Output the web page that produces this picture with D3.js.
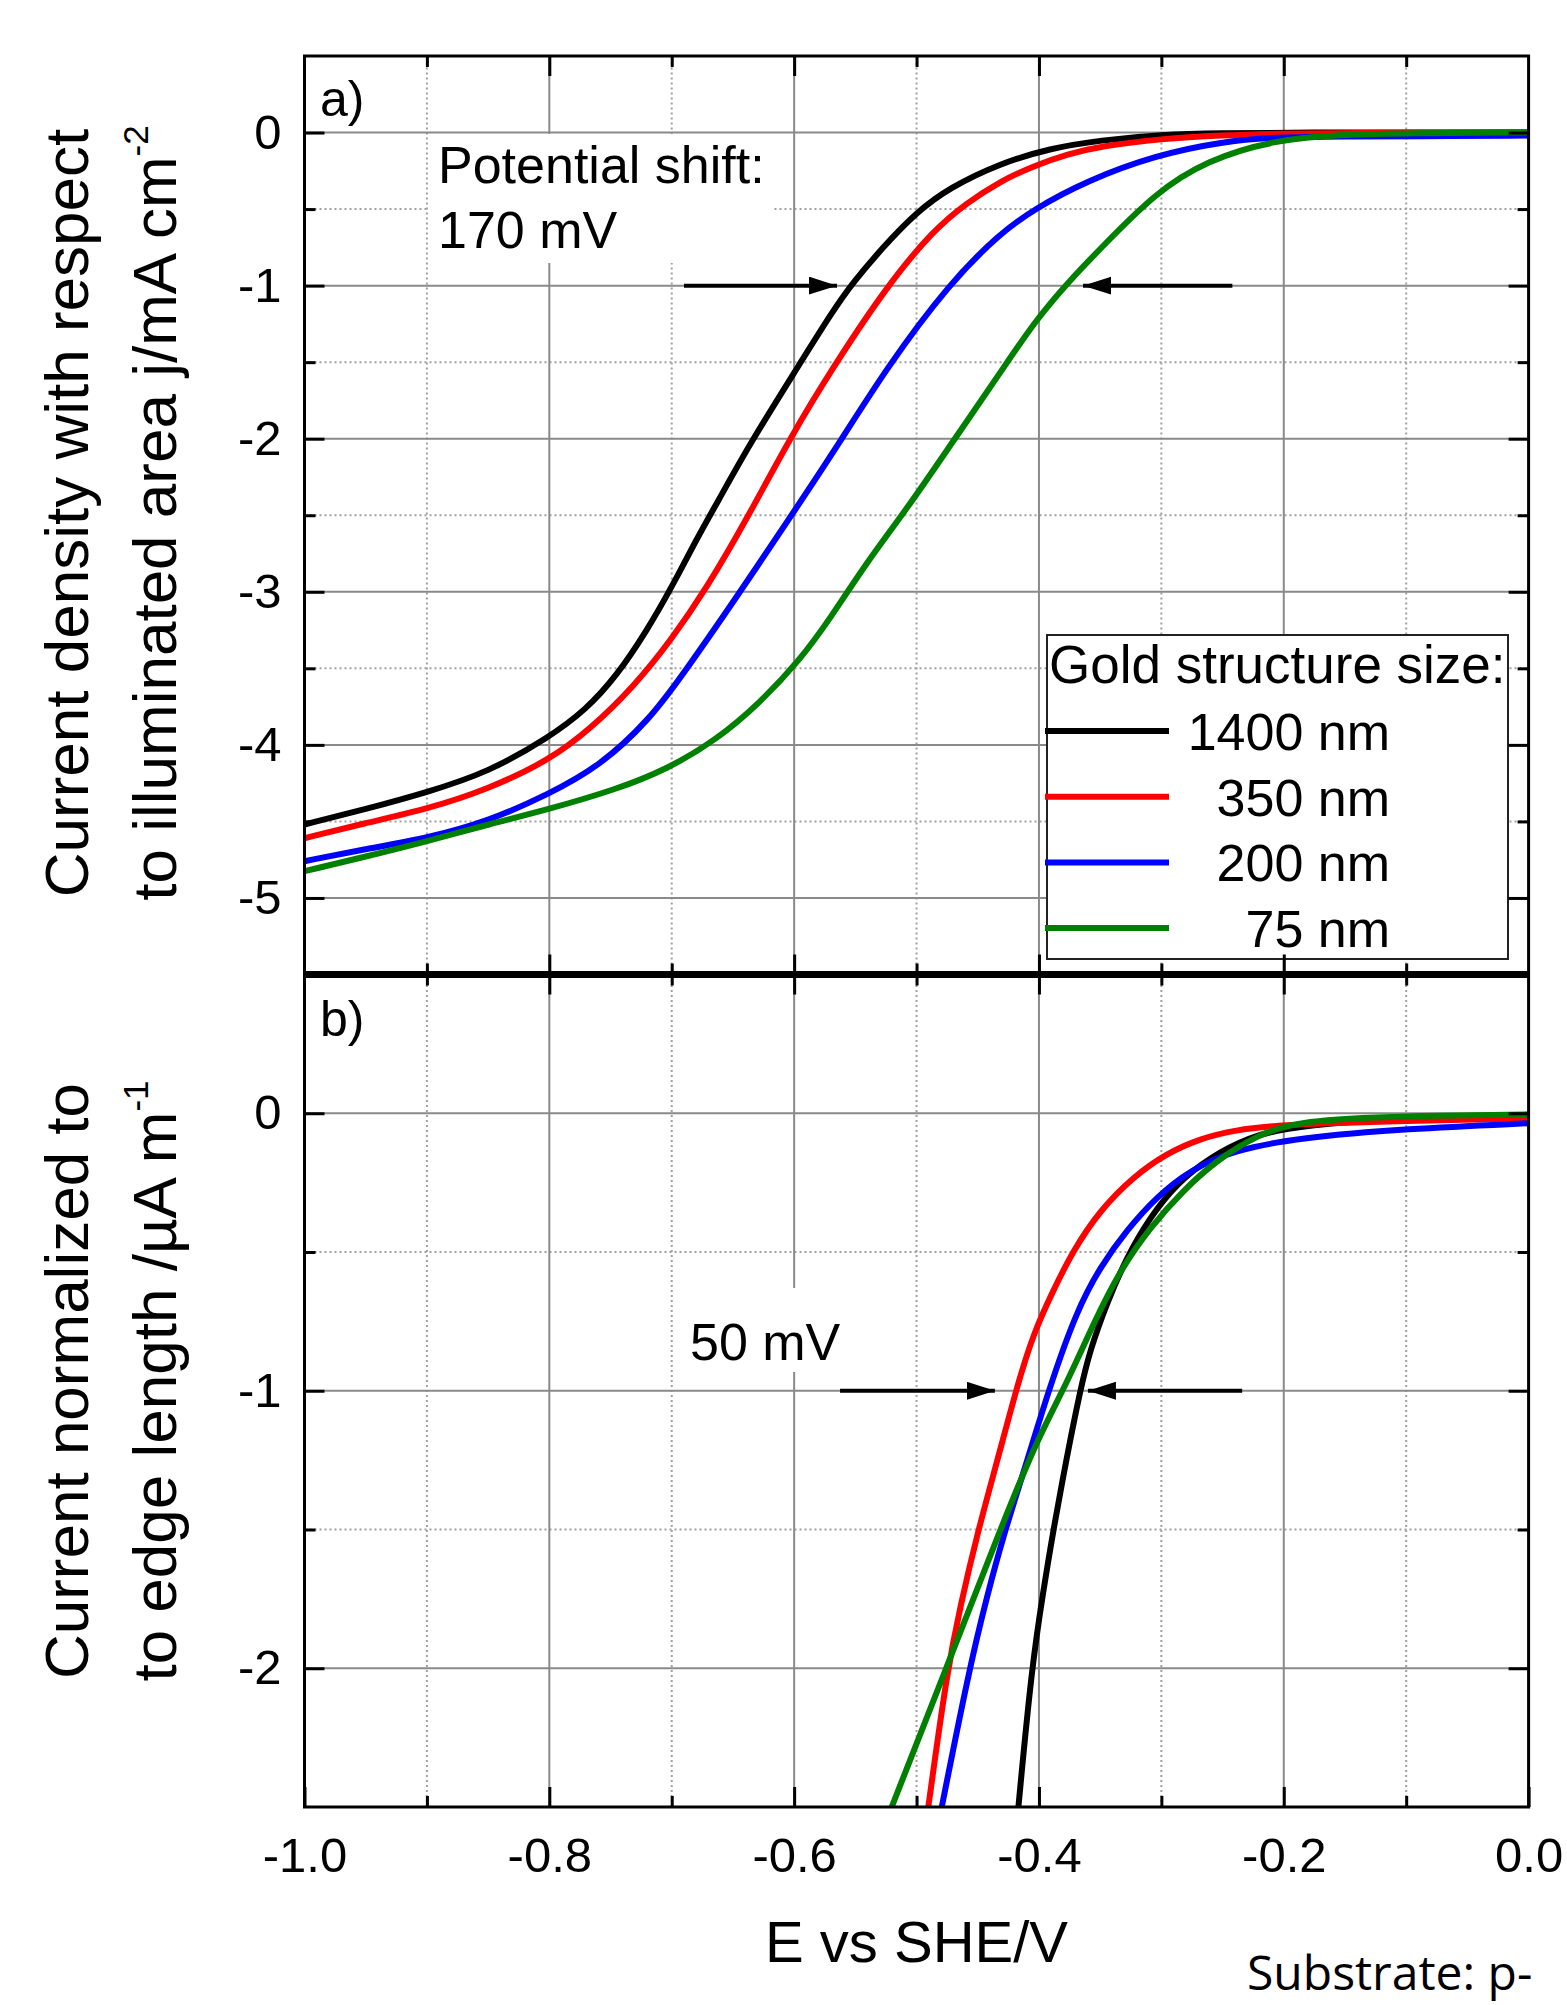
<!DOCTYPE html>
<html>
<head>
<meta charset="utf-8">
<script src="https://cdnjs.cloudflare.com/ajax/libs/d3/7.8.5/d3.min.js"></script>
<style>
  body { margin: 0; background: #fff; }
  svg { display: block; }
</style>
</head>
<body>
<svg id="chart"></svg>
<script>
// legend entries
var sizes = ["1400 nm", "350 nm", "200 nm", "75 nm"];
var colors = ["#000000", "#ff0000", "#0000ff", "#008000"];

// panel a) : [E vs SHE / V, j / mA cm-2]
var a1400 = [[-1.0,-4.52],[-0.95,-4.42],[-0.90,-4.31],[-0.85,-4.18],[-0.80,-3.95],[-0.77,-3.77],
  [-0.745,-3.55],[-0.72,-3.25],[-0.70,-2.97],[-0.68,-2.66],[-0.663,-2.42],[-0.636,-2.03],[-0.60,-1.57],
  [-0.568,-1.16],[-0.552,-0.98],[-0.527,-0.745],[-0.50,-0.52],[-0.473,-0.36],[-0.432,-0.202],
  [-0.391,-0.103],[-0.35,-0.05],[-0.30,-0.013],[-0.25,-0.003],[-0.20,0],[0,0]];
var a350 = [[-1.0,-4.61],[-0.95,-4.51],[-0.90,-4.42],[-0.85,-4.29],[-0.80,-4.10],[-0.767,-3.90],
  [-0.731,-3.62],[-0.70,-3.31],[-0.671,-2.97],[-0.639,-2.53],[-0.603,-1.99],[-0.568,-1.53],[-0.524,-1.00],
  [-0.486,-0.636],[-0.459,-0.46],[-0.432,-0.32],[-0.405,-0.22],[-0.376,-0.14],[-0.35,-0.09],
  [-0.30,-0.04],[-0.25,-0.018],[-0.207,-0.008],[-0.15,-0.002],[0,0]];
var a200 = [[-1.0,-4.76],[-0.95,-4.68],[-0.90,-4.61],[-0.85,-4.50],[-0.80,-4.32],[-0.759,-4.14],
  [-0.718,-3.835],[-0.69,-3.53],[-0.65,-3.07],[-0.603,-2.51],[-0.568,-2.09],[-0.524,-1.53],[-0.473,-0.984],
  [-0.432,-0.66],[-0.404,-0.50],[-0.361,-0.315],[-0.305,-0.148],[-0.249,-0.057],[-0.207,-0.031],
  [-0.15,-0.026],[-0.094,-0.024],[0,-0.02]];
var a75 = [[-1.0,-4.825],[-0.95,-4.73],[-0.90,-4.63],[-0.85,-4.52],[-0.80,-4.42],[-0.745,-4.29],
  [-0.704,-4.16],[-0.663,-3.965],[-0.628,-3.726],[-0.595,-3.443],[-0.571,-3.18],[-0.541,-2.81],
  [-0.508,-2.46],[-0.473,-2.05],[-0.43,-1.55],[-0.404,-1.24],[-0.376,-0.975],[-0.347,-0.735],
  [-0.305,-0.395],[-0.263,-0.181],[-0.207,-0.046],[-0.15,-0.012],[-0.10,-0.003],[0,0]];

// panel b) : [E vs SHE / V, I / uA m-1]
var b1400 = [[-0.4168,-2.5],[-0.4059,-1.995],[-0.3964,-1.72],[-0.3882,-1.50],[-0.3773,-1.24],
  [-0.3664,-1.0],[-0.3583,-0.854],[-0.3447,-0.686],[-0.3283,-0.518],[-0.309,-0.373],[-0.2875,-0.253],
  [-0.26,-0.157],[-0.2276,-0.085],[-0.20,-0.055],[-0.15,-0.03],[-0.10,-0.018],[0,-0.01]];
var b350 = [[-0.4904,-2.5],[-0.4753,-2.018],[-0.4645,-1.78],[-0.4495,-1.50],[-0.4345,-1.26],
  [-0.418,-0.985],[-0.4046,-0.794],[-0.3883,-0.638],[-0.372,-0.494],[-0.35,-0.349],[-0.323,-0.229],
  [-0.296,-0.145],[-0.268,-0.091],[-0.241,-0.061],[-0.20,-0.04],[-0.10,-0.027],[0,-0.018]];
var b200 = [[-0.4794,-2.5],[-0.4577,-2.018],[-0.4426,-1.742],[-0.4277,-1.502],[-0.4128,-1.298],
  [-0.3909,-0.98],[-0.369,-0.71],[-0.35,-0.554],[-0.3283,-0.421],[-0.3038,-0.301],[-0.2766,-0.205],
  [-0.2412,-0.133],[-0.1868,-0.088],[-0.10,-0.056],[0,-0.036]];
var b75 = [[-0.5203,-2.5],[-0.4753,-1.995],[-0.4318,-1.502],
  [-0.4018,-1.178],[-0.3773,-0.974],[-0.3556,-0.758],[-0.3338,-0.566],[-0.309,-0.41],[-0.282,-0.277],
  [-0.2548,-0.169],[-0.222,-0.079],[-0.1868,-0.025],[-0.10,-0.01],[0,-0.004]];

// ticks
var xMajor = [-1.0, -0.8, -0.6, -0.4, -0.2, 0.0];
var xMinor = [-0.9, -0.7, -0.5, -0.3, -0.1];
var yMajorA = [0, -1, -2, -3, -4, -5];
var yMinorA = [-0.5, -1.5, -2.5, -3.5, -4.5];
var yMajorB = [0, -1, -2];
var yMinorB = [-0.5, -1.5];

// potential shift arrows at j = -1 : [tail E, head E]
var arrowsA = [[-0.69, -0.565], [-0.242, -0.364]];
var arrowsB = [[-0.5625, -0.436], [-0.234, -0.36]];

var W = 1567, H = 2005;
var font = "'Liberation Sans', Arial, sans-serif";

var svg = d3.select('#chart')
    .attr('width', W)
    .attr('height', H)
    .attr('font-family', font);

var x = d3.scaleLinear().domain([-1, 0]).range([304.5, 1528.6]);
var yA = d3.scaleLinear().domain([-5.5, 0.5]).range([974.5, 56]);
var yB = d3.scaleLinear().domain([-2.5, 0.5]).range([1807, 974.5]);

var defs = svg.append('defs');
defs.append('marker')
    .attr('id', 'head')
    .attr('markerUnits', 'userSpaceOnUse')
    .attr('markerWidth', 30).attr('markerHeight', 20)
    .attr('refX', 28).attr('refY', 9)
    .attr('orient', 'auto')
  .append('path')
    .attr('d', 'M0,0 L28,9 L0,18 Z')
    .attr('fill', '#000');

function panel(id, y, yMaj, yMin) {
  var r = y.range();
  defs.append('clipPath').attr('id', 'clip' + id)
    .append('rect')
      .attr('x', x.range()[0]).attr('y', r[1])
      .attr('width', x.range()[1] - x.range()[0]).attr('height', r[0] - r[1]);

  var g = svg.append('g').attr('clip-path', 'url(#clip' + id + ')');

  // grid
  g.selectAll('.vmin').data(xMinor).enter().append('line')
      .attr('x1', function(d) { return x(d); }).attr('x2', function(d) { return x(d); })
      .attr('y1', r[0]).attr('y2', r[1])
      .attr('stroke', '#a0a0a0').attr('stroke-width', 2).attr('stroke-dasharray', '2,3');
  g.selectAll('.hmin').data(yMin).enter().append('line')
      .attr('x1', x.range()[0]).attr('x2', x.range()[1])
      .attr('y1', function(d) { return y(d); }).attr('y2', function(d) { return y(d); })
      .attr('stroke', '#a0a0a0').attr('stroke-width', 2).attr('stroke-dasharray', '2,3');
  g.selectAll('.vmaj').data(xMajor).enter().append('line')
      .attr('x1', function(d) { return x(d); }).attr('x2', function(d) { return x(d); })
      .attr('y1', r[0]).attr('y2', r[1])
      .attr('stroke', '#8a8a8a').attr('stroke-width', 2);
  g.selectAll('.hmaj').data(yMaj).enter().append('line')
      .attr('x1', x.range()[0]).attr('x2', x.range()[1])
      .attr('y1', function(d) { return y(d); }).attr('y2', function(d) { return y(d); })
      .attr('stroke', '#8a8a8a').attr('stroke-width', 2);
  return g;
}

function curves(g, y, series) {
  var line = d3.line()
      .x(function(d) { return x(d[0]); })
      .y(function(d) { return y(d[1]); })
      .curve(d3.curveBasis);
  g.selectAll('path.curve').data(series).enter().append('path')
      .attr('class', 'curve')
      .attr('d', line)
      .attr('fill', 'none')
      .attr('stroke', function(d, i) { return colors[i]; })
      .attr('stroke-width', 6)
      .attr('stroke-linejoin', 'round');
}

function arrows(data, y) {
  svg.selectAll(null).data(data).enter().append('line')
      .attr('x1', function(d) { return x(d[0]); })
      .attr('x2', function(d) { return x(d[1]); })
      .attr('y1', y(-1)).attr('y2', y(-1))
      .attr('stroke', '#000').attr('stroke-width', 4)
      .attr('marker-end', 'url(#head)');
}

// panel a
var gA = panel('A', yA, yMajorA, yMinorA);
gA.append('rect').attr('x', 428).attr('y', 134).attr('width', 345).attr('height', 129).attr('fill', '#fff');
curves(gA, yA, [a1400, a350, a200, a75]);

// panel b
var gB = panel('B', yB, yMajorB, yMinorB);
gB.append('rect').attr('x', 680).attr('y', 1288).attr('width', 165).attr('height', 84).attr('fill', '#fff');
curves(gB, yB, [b1400, b350, b200, b75]);

arrows(arrowsA, yA);
arrows(arrowsB, yB);

// legend
var leg = svg.append('g');
leg.append('rect')
    .attr('x', 1047).attr('y', 635).attr('width', 461).attr('height', 324)
    .attr('fill', '#fff').attr('stroke', '#222').attr('stroke-width', 2);
leg.append('text')
    .attr('x', 1049).attr('y', 683)
    .attr('font-size', 53)
    .text('Gold structure size:');
sizes.forEach(function(s, i) {
  var ly = 731 + i * 65.7;
  leg.append('line')
      .attr('x1', 1045).attr('x2', 1169).attr('y1', ly).attr('y2', ly)
      .attr('stroke', colors[i]).attr('stroke-width', 6);
  leg.append('text')
      .attr('x', 1390).attr('y', ly + 19)
      .attr('text-anchor', 'end')
      .attr('font-size', 52)
      .text(s);
});

// axes and ticks
function tickStyle(g) {
  g.select('.domain').remove();
  g.selectAll('line').attr('stroke', '#000').attr('stroke-width', 3);
  g.selectAll('text').attr('fill', '#000').attr('font-family', font);
}
var xL = x.range()[0], xR = x.range()[1];

// left
[[yA, yMajorA, yMinorA], [yB, yMajorB, yMinorB]].forEach(function(p) {
  svg.append('g').attr('transform', 'translate(' + xL + ',0)')
      .call(d3.axisLeft(p[0]).tickValues(p[1]).tickSize(-20).tickPadding(23)
        .tickFormat(function(d) { return String(d); }))
      .attr('font-size', 49).call(tickStyle);
  svg.append('g').attr('transform', 'translate(' + xL + ',0)')
      .call(d3.axisLeft(p[0]).tickValues(p[2]).tickSize(-11).tickFormat(''))
      .call(tickStyle);
});

// right
[[yA, yMajorA, yMinorA], [yB, yMajorB, yMinorB]].forEach(function(p) {
  svg.append('g').attr('transform', 'translate(' + xR + ',0)')
      .call(d3.axisRight(p[0]).tickValues(p[1]).tickSize(-20).tickFormat(''))
      .call(tickStyle);
  svg.append('g').attr('transform', 'translate(' + xR + ',0)')
      .call(d3.axisRight(p[0]).tickValues(p[2]).tickSize(-11).tickFormat(''))
      .call(tickStyle);
});

// top, middle and bottom x ticks
var xMajIn = xMajor.slice(1, -1);
[[d3.axisTop, yA.range()[1]], [d3.axisBottom, yA.range()[0]], [d3.axisTop, yB.range()[1]]].forEach(function(p) {
  svg.append('g').attr('transform', 'translate(0,' + p[1] + ')')
      .call(p[0](x).tickValues(xMajIn).tickSize(-20).tickFormat(''))
      .call(tickStyle);
  svg.append('g').attr('transform', 'translate(0,' + p[1] + ')')
      .call(p[0](x).tickValues(xMinor).tickSize(-11).tickFormat(''))
      .call(tickStyle);
});
svg.append('g').attr('transform', 'translate(0,' + yB.range()[0] + ')')
    .call(d3.axisBottom(x).tickValues(xMajor).tickSize(-20).tickPadding(30)
      .tickFormat(function(d) { return d.toFixed(1); }))
    .attr('font-size', 49).call(tickStyle);
svg.append('g').attr('transform', 'translate(0,' + yB.range()[0] + ')')
    .call(d3.axisBottom(x).tickValues(xMinor).tickSize(-11).tickFormat(''))
    .call(tickStyle);

// frame
var frame = svg.append('g').attr('fill', 'none').attr('stroke', '#000');
frame.append('rect')
    .attr('x', xL).attr('y', yA.range()[1])
    .attr('width', xR - xL).attr('height', yB.range()[0] - yA.range()[1])
    .attr('stroke-width', 3);
frame.append('line')
    .attr('x1', xL).attr('x2', xR)
    .attr('y1', yA.range()[0]).attr('y2', yA.range()[0])
    .attr('stroke-width', 7);

// texts
svg.append('text').attr('x', 320).attr('y', 116).attr('font-size', 50).text('a)');
svg.append('text').attr('x', 320).attr('y', 1036).attr('font-size', 50).text('b)');
svg.append('text').attr('x', 438).attr('y', 183).attr('font-size', 52).text('Potential shift:');
svg.append('text').attr('x', 438).attr('y', 248).attr('font-size', 52).text('170 mV');
svg.append('text').attr('x', 690).attr('y', 1360).attr('font-size', 52).text('50 mV');

// axis titles
function ytitle(cy, bx, lines) {
  lines.forEach(function(l, i) {
    var t = svg.append('text')
        .attr('transform', 'translate(' + bx[i] + ',' + cy + ') rotate(-90)')
        .attr('text-anchor', 'middle')
        .attr('font-size', 62);
    t.append('tspan').text(l[0]);
    if (l[1]) t.append('tspan').attr('font-size', 35).attr('dy', -28).text(l[1]);
  });
}
ytitle(513, [88, 176], [['Current density with respect'], ['to illuminated area j/mA cm', '-2']]);
ytitle(1381, [88, 176], [['Current normalized to'], ['to edge length /\u00b5A m', '-1']]);

svg.append('text')
    .attr('x', (xL + xR) / 2).attr('y', 1962)
    .attr('text-anchor', 'middle')
    .attr('font-size', 58)
    .text('E vs SHE/V');

svg.append('text')
    .attr('x', 1247).attr('y', 1990)
    .attr('font-family', "'Open Sans', 'Noto Sans', sans-serif")
    .attr('font-size', 48)
    .text('Substrate: p-');
</script>
</body>
</html>
